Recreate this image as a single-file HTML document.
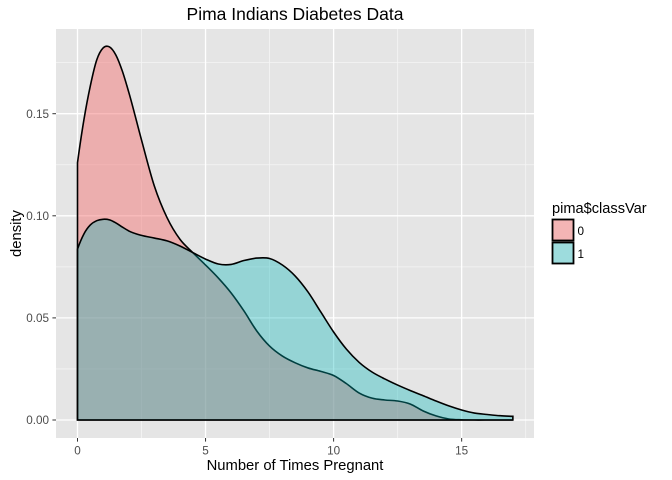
<!DOCTYPE html>
<html>
<head>
<meta charset="utf-8">
<title>Pima Indians Diabetes Data</title>
<style>
html,body{margin:0;padding:0;background:#fff;}
#chart{display:block;width:672px;height:480px;}
text{font-family:"Liberation Sans",Arial,sans-serif;}
</style>
</head>
<body>
<svg id="chart" width="672" height="480" viewBox="0 0 672 480" xmlns="http://www.w3.org/2000/svg"></svg>
<script>
const xTicks = [0, 5, 10, 15];
const xMinor = [2.5, 7.5, 12.5, 17.5];
const yTicks = [0, 0.05, 0.10, 0.15];
const yMinor = [0.025, 0.075, 0.125, 0.175];
const yTickLabels = ["0.00", "0.05", "0.10", "0.15"];
const gridX = [0, 0.25, 0.5, 0.75, 1, 1.25, 1.5, 1.75, 2, 2.5, 3, 3.5, 4, 4.5, 5, 5.5, 6, 6.5, 7, 7.5, 8, 8.5, 9, 9.5, 10, 10.5, 11, 11.5, 12, 12.5, 13, 13.5, 14, 14.5, 15, 15.5, 16, 16.5, 17];
const density0 = [0.126, 0.147, 0.1636, 0.1763, 0.1822, 0.1827, 0.1787, 0.1709, 0.1606, 0.1371, 0.1146, 0.099, 0.0885, 0.082, 0.0759, 0.0695, 0.0622, 0.0534, 0.0436, 0.0362, 0.0313, 0.028, 0.0255, 0.0238, 0.0218, 0.0178, 0.0132, 0.0107, 0.0098, 0.0093, 0.0078, 0.0044, 0.002, 0.0005, 0.0001, 0, 0, 0, 0];
const density1 = [0.0837, 0.0911, 0.0955, 0.0976, 0.0983, 0.098, 0.0965, 0.0945, 0.0926, 0.0904, 0.0891, 0.0877, 0.0852, 0.082, 0.0788, 0.0764, 0.0762, 0.0781, 0.0793, 0.0791, 0.0759, 0.0705, 0.0627, 0.0529, 0.0431, 0.0347, 0.0282, 0.0235, 0.0201, 0.0171, 0.0144, 0.0119, 0.0093, 0.0069, 0.0049, 0.0034, 0.0027, 0.0021, 0.0018];
const seriesNames = ["0", "1"];
const seriesColors = ["#F37777", "#00B4B8"];
const seriesOpacity = [0.5, 0.35];

const svg = document.getElementById('chart');
const NS = 'http://www.w3.org/2000/svg';
const panel = {left: 56, right: 534, top: 29, bottom: 438};
function sx(v) { return 77.5 + v * 25.61; }
function sy(v) { return 420 - v * 2042; }
function make(tag, attrs, text) {
  const el = document.createElementNS(NS, tag);
  for (const k in attrs) el.setAttribute(k, attrs[k]);
  if (text !== undefined) el.textContent = text;
  svg.appendChild(el);
  return el;
}
function curvePath(xs, ys) {
  const px = xs.map(sx), py = ys.map(sy);
  const n = px.length;
  const m = px.map((_, i) => {
    if (i === 0) return 1.5 * (py[1] - py[0]) / (px[1] - px[0]) - 0.5 * (py[2] - py[1]) / (px[2] - px[1]);
    if (i === n - 1) return (py[i] - py[i - 1]) / (px[i] - px[i - 1]);
    const h0 = px[i] - px[i - 1], h1 = px[i + 1] - px[i];
    const d0 = (py[i] - py[i - 1]) / h0, d1 = (py[i + 1] - py[i]) / h1;
    return (h1 * d0 + h0 * d1) / (h0 + h1);
  });
  let d = 'M' + px[0].toFixed(2) + ',' + py[0].toFixed(2);
  for (let i = 0; i < n - 1; i++) {
    const h = (px[i + 1] - px[i]) / 3;
    d += 'C' + (px[i] + h).toFixed(2) + ',' + (py[i] + m[i] * h).toFixed(2) + ' ' +
      (px[i + 1] - h).toFixed(2) + ',' + (py[i + 1] - m[i + 1] * h).toFixed(2) + ' ' +
      px[i + 1].toFixed(2) + ',' + py[i + 1].toFixed(2);
  }
  return d + 'L' + px[n - 1].toFixed(2) + ',' + sy(0).toFixed(2) + 'L' + px[0].toFixed(2) + ',' + sy(0).toFixed(2) + 'Z';
}

const bg = make('rect', {x: panel.left, y: panel.top, width: panel.right - panel.left, height: panel.bottom - panel.top, fill: '#E5E5E5'});



yMinor.forEach(v => {
  const el = make('line', {x1: panel.left, x2: panel.right, y1: sy(v), y2: sy(v), stroke: '#F5F5F5', 'stroke-width': 0.8});
  
  
});
xMinor.forEach(v => {
  const el = make('line', {x1: sx(v), x2: sx(v), y1: panel.top, y2: panel.bottom, stroke: '#F5F5F5', 'stroke-width': 0.8});
  
  
});
yTicks.forEach(v => {
  const el = make('line', {x1: panel.left, x2: panel.right, y1: sy(v), y2: sy(v), stroke: '#FFFFFF', 'stroke-width': 1.3});
  
  
});
xTicks.forEach(v => {
  const el = make('line', {x1: sx(v), x2: sx(v), y1: panel.top, y2: panel.bottom, stroke: '#FFFFFF', 'stroke-width': 1.3});
  
  
});

[density0, density1].forEach((vals, i) => {
  const el = make('path', {d: curvePath(gridX, vals), fill: seriesColors[i], 'fill-opacity': seriesOpacity[i], stroke: '#000000', 'stroke-width': 1.6, 'stroke-linejoin': 'miter'});
  
  
});

yTicks.forEach((v, i) => {
  const t = make('line', {x1: panel.left - 3.6, x2: panel.left, y1: sy(v), y2: sy(v), stroke: '#333333', 'stroke-width': 1});
  
  
  const l = make('text', {x: panel.left - 7, y: sy(v) + 4.2, 'text-anchor': 'end', 'font-size': 11.7, fill: '#4D4D4D'}, yTickLabels[i]);
  
  
});
xTicks.forEach(v => {
  const t = make('line', {x1: sx(v), x2: sx(v), y1: panel.bottom, y2: panel.bottom + 3.6, stroke: '#333333', 'stroke-width': 1});
  
  
  const l = make('text', {x: sx(v), y: 454.5, 'text-anchor': 'middle', 'font-size': 11.7, fill: '#4D4D4D'}, String(v));
  
  
});

const title = make('text', {x: 295, y: 20, 'text-anchor': 'middle', 'font-size': 17.5, fill: '#000000'}, 'Pima Indians Diabetes Data');


const xTitle = make('text', {x: 295, y: 470, 'text-anchor': 'middle', 'font-size': 14.8, fill: '#000000'}, 'Number of Times Pregnant');


const yTitle = make('text', {x: 0, y: 0, transform: 'translate(21,233.5) rotate(-90)', 'text-anchor': 'middle', 'font-size': 14.8, fill: '#000000'}, 'density');



const legendTitle = make('text', {x: 552, y: 213, 'font-size': 14.6, fill: '#000000'}, 'pima$classVar');


seriesNames.forEach((name, i) => {
  const y = 219.5 + i * 23;
  const bgKey = make('rect', {x: 552.5, y: y, width: 21, height: 21, fill: '#F2F2F2'});
  
  
  const key = make('rect', {x: 552.5, y: y, width: 21, height: 21, fill: seriesColors[i], 'fill-opacity': seriesOpacity[i], stroke: '#000000', 'stroke-width': 1.8});
  
  
  const label = make('text', {x: 577.5, y: y + 15.5, 'font-size': 11.7, fill: '#000000'}, name);
  
  
});
</script>
</body>
</html>
